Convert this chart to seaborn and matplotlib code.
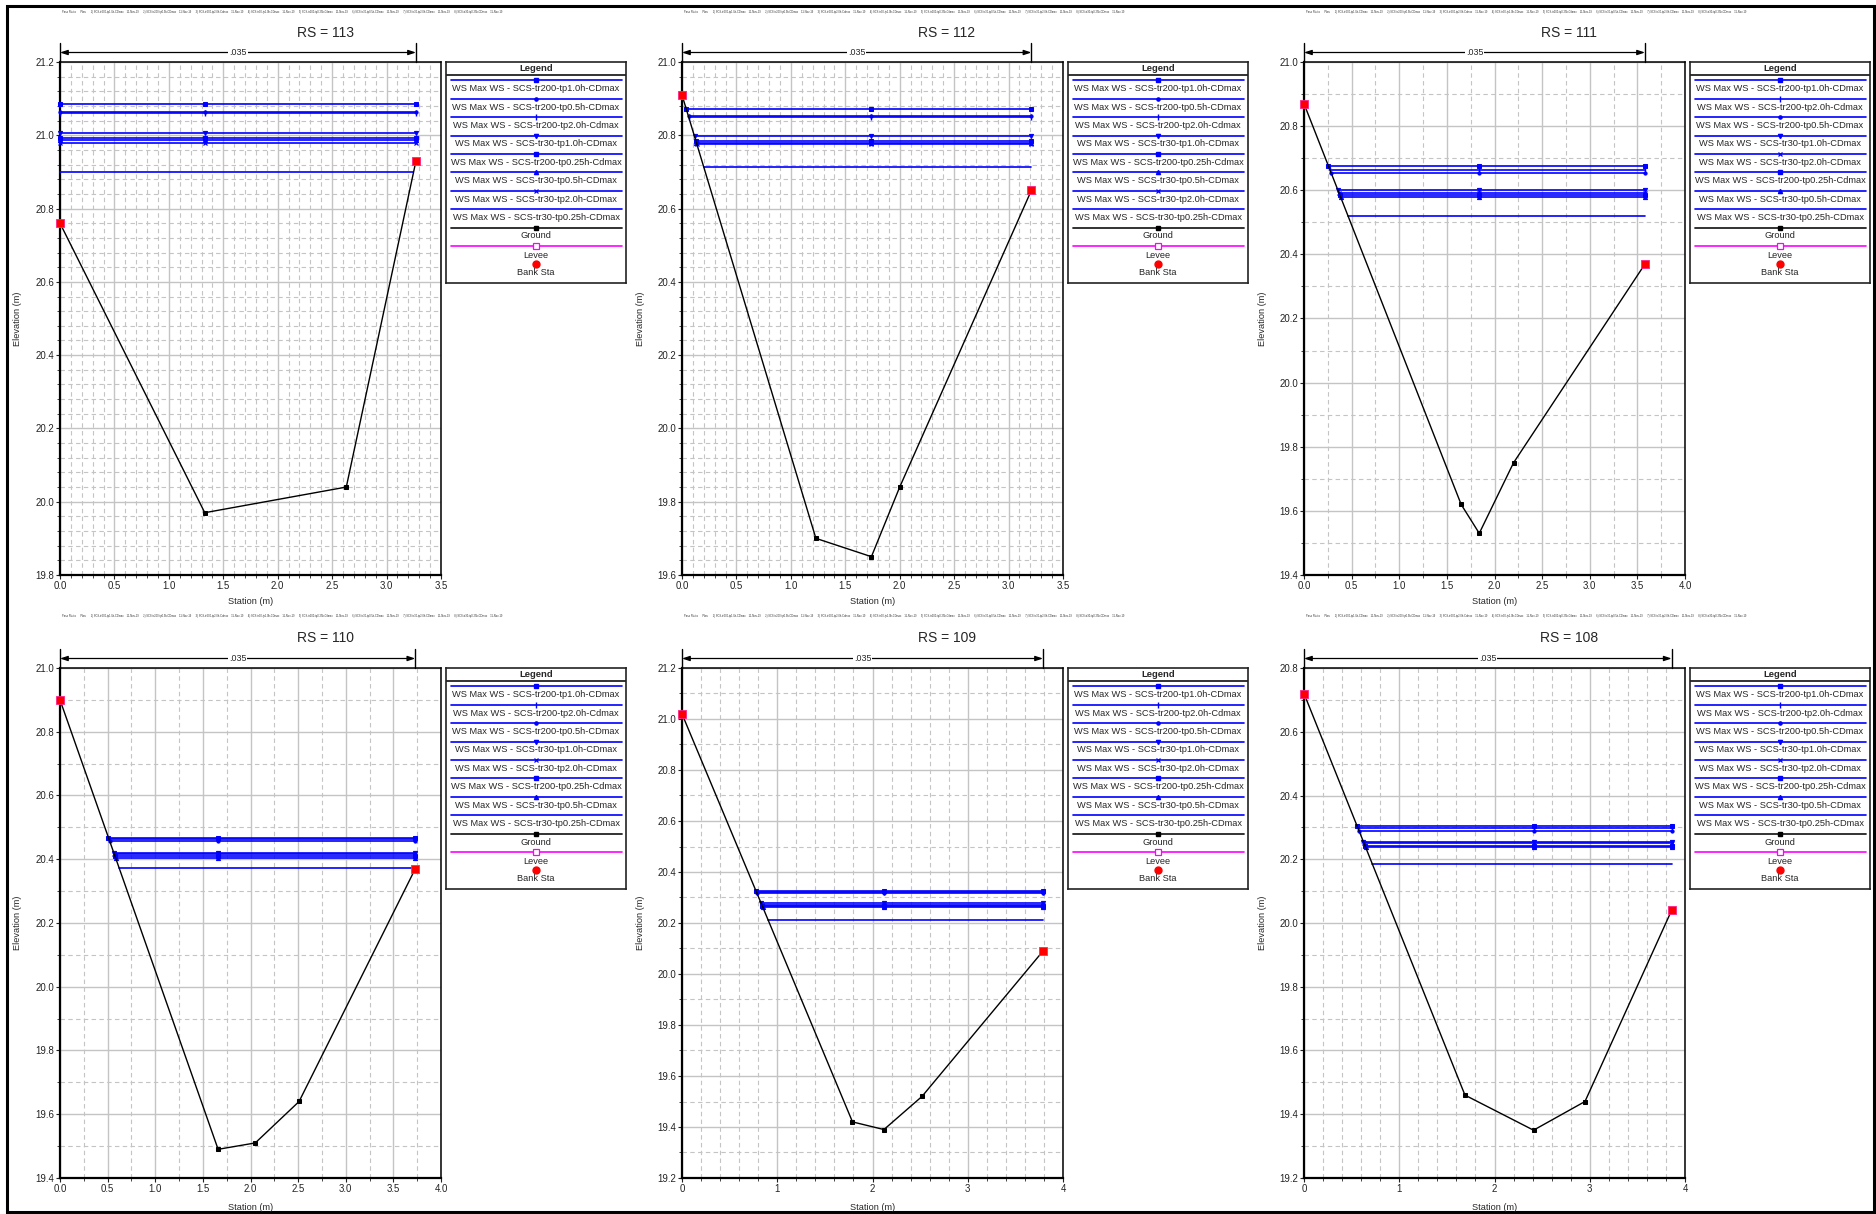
import matplotlib
matplotlib.use("Agg")
import numpy as np
import pandas as pd
import matplotlib.pyplot as plt
import seaborn as sns
from matplotlib.ticker import MultipleLocator, FormatStrFormatter
from matplotlib.patches import Rectangle

# ---- data ------------------------------------------------------------------
river_stations = ["113", "112", "111", "110", "109", "108"]

# ground profile (station m, elevation m); first and last points are bank stations
stations_113 = [0.0, 1.33, 2.63, 3.27]
elev_113 = [20.76, 19.97, 20.04, 20.93]
stations_112 = [0.0, 1.23, 1.74, 2.00, 3.21]
elev_112 = [20.91, 19.70, 19.65, 19.84, 20.65]
stations_111 = [0.0, 1.65, 1.84, 2.20, 3.58]
elev_111 = [20.87, 19.62, 19.53, 19.75, 20.37]
stations_110 = [0.0, 1.66, 2.05, 2.51, 3.73]
elev_110 = [20.90, 19.49, 19.51, 19.64, 20.37]
stations_109 = [0.0, 1.79, 2.12, 2.52, 3.79]
elev_109 = [21.02, 19.42, 19.39, 19.52, 20.09]
stations_108 = [0.0, 1.69, 2.41, 2.95, 3.86]
elev_108 = [20.72, 19.46, 19.35, 19.44, 20.04]

# profile order as listed in each legend (highest water surface first)
order_a = ["tr200-tp1.0h-CDmax", "tr200-tp0.5h-CDmax", "tr200-tp2.0h-Cdmax", "tr30-tp1.0h-CDmax",
           "tr200-tp0.25h-Cdmax", "tr30-tp0.5h-CDmax", "tr30-tp2.0h-CDmax", "tr30-tp0.25h-CDmax"]
order_b = ["tr200-tp1.0h-CDmax", "tr200-tp2.0h-Cdmax", "tr200-tp0.5h-CDmax", "tr30-tp1.0h-CDmax",
           "tr30-tp2.0h-CDmax", "tr200-tp0.25h-Cdmax", "tr30-tp0.5h-CDmax", "tr30-tp0.25h-CDmax"]

# max water surface per profile (same order as the legend of that section)
ws_113 = [21.085, 21.063, 21.060, 21.005, 20.992, 20.988, 20.980, 20.900]
ws_112 = [20.872, 20.853, 20.850, 20.797, 20.785, 20.780, 20.776, 20.714]
ws_111 = [20.675, 20.663, 20.655, 20.601, 20.592, 20.585, 20.579, 20.521]
ws_110 = [20.468, 20.462, 20.456, 20.420, 20.415, 20.410, 20.405, 20.372]
ws_109 = [20.325, 20.320, 20.316, 20.278, 20.272, 20.268, 20.263, 20.212]
ws_108 = [20.305, 20.299, 20.290, 20.255, 20.250, 20.241, 20.237, 20.186]

# where each water surface line starts / ends (station m)
ws_left_113 = [0.0, 0.0, 0.0, 0.0, 0.0, 0.0, 0.0, 0.0]
ws_right_113 = [3.27, 3.27, 3.27, 3.27, 3.27, 3.27, 3.27, 3.245]
ws_left_112 = [0.04, 0.06, 0.06, 0.115, 0.125, 0.13, 0.135, 0.20]
ws_right_112 = [3.21, 3.21, 3.21, 3.21, 3.21, 3.21, 3.21, 3.21]
ws_left_111 = [0.257, 0.273, 0.284, 0.355, 0.367, 0.376, 0.384, 0.461]
ws_right_111 = [3.58, 3.58, 3.58, 3.58, 3.58, 3.58, 3.58, 3.58]
ws_left_110 = [0.509, 0.516, 0.523, 0.565, 0.571, 0.577, 0.583, 0.622]
ws_right_110 = [3.73, 3.73, 3.73, 3.73, 3.73, 3.73, 3.73, 3.72]
ws_left_109 = [0.777, 0.783, 0.788, 0.830, 0.837, 0.841, 0.847, 0.904]
ws_right_109 = [3.79, 3.79, 3.79, 3.79, 3.79, 3.79, 3.79, 3.79]
ws_left_108 = [0.557, 0.565, 0.577, 0.624, 0.630, 0.642, 0.648, 0.716]
ws_right_108 = [3.86, 3.86, 3.86, 3.86, 3.86, 3.86, 3.86, 3.86]

# middle marker of each WS line sits at the thalweg
thalweg = [1.33, 1.74, 1.84, 1.66, 2.12, 2.41]

manning_n = ".035"
header_text = ("Paso Ristra      Plan:      1) SCS-tr200-tp1.0h-CDmax    11-Nov-19      "
               "2) SCS-tr200-tp0.5h-CDmax    11-Nov-19      3) SCS-tr200-tp2.0h-Cdmax    11-Nov-19      "
               "4) SCS-tr30-tp1.0h-CDmax    11-Nov-19      5) SCS-tr200-tp0.25h-Cdmax    11-Nov-19      "
               "6) SCS-tr30-tp0.5h-CDmax    11-Nov-19      7) SCS-tr30-tp2.0h-CDmax    11-Nov-19      "
               "8) SCS-tr30-tp0.25h-CDmax    11-Nov-19")

sections = [
    (stations_113, elev_113, ws_113, ws_left_113, ws_right_113, order_a),
    (stations_112, elev_112, ws_112, ws_left_112, ws_right_112, order_a),
    (stations_111, elev_111, ws_111, ws_left_111, ws_right_111, order_b),
    (stations_110, elev_110, ws_110, ws_left_110, ws_right_110, order_b),
    (stations_109, elev_109, ws_109, ws_left_109, ws_right_109, order_b),
    (stations_108, elev_108, ws_108, ws_left_108, ws_right_108, order_b),
]

# axis setup per section: xlim, x major, x minor, ylim, y major, y minor, x format
axis_cfg = [
    ((0, 3.5), 0.5, 0.1, (19.8, 21.2), 0.2, 0.04, "%.1f"),
    ((0, 3.5), 0.5, 0.1, (19.6, 21.0), 0.2, 0.04, "%.1f"),
    ((0, 4.0), 0.5, 0.25, (19.4, 21.0), 0.2, 0.1, "%.1f"),
    ((0, 4.0), 0.5, 0.25, (19.4, 21.0), 0.2, 0.1, "%.1f"),
    ((0, 4.0), 1.0, 0.2, (19.2, 21.2), 0.2, 0.1, "%d"),
    ((0, 4.0), 1.0, 0.2, (19.2, 20.8), 0.2, 0.1, "%d"),
]

marker_style = {
    "tr200-tp1.0h-CDmax": dict(marker="s", ms=3),
    "tr200-tp0.5h-CDmax": dict(marker="o", ms=2.3),
    "tr200-tp2.0h-Cdmax": dict(marker="|", ms=4, mew=1),
    "tr30-tp1.0h-CDmax": dict(marker="v", ms=3),
    "tr200-tp0.25h-Cdmax": dict(marker="s", ms=3),
    "tr30-tp0.5h-CDmax": dict(marker="^", ms=3),
    "tr30-tp2.0h-CDmax": dict(marker="x", ms=3, mew=0.9),
    "tr30-tp0.25h-CDmax": dict(),
}

BLUE = "#0000FF"
GRID = "#C4C4C4"

sns.set_style("ticks")
plt.rcParams["font.family"] = ["Liberation Sans", "DejaVu Sans"]

W, H = 1876, 1214
fig = plt.figure(figsize=(W / 100, H / 100), dpi=100)


def px_axes(left, top, width, height):
    return fig.add_axes([left / W, 1 - (top + height) / H, width / W, height / H])


for i, (gx, gy, ws, wl, wr, names) in enumerate(sections):
    col, row = i % 3, i // 3
    ax_left = 60 + 622 * col
    ax_top = 62 if row == 0 else 668
    ax_h = 513 if row == 0 else 510
    ax = px_axes(ax_left, ax_top, 381, ax_h)
    xlim, xmaj, xmin, ylim, ymaj, ymin, xfmt = axis_cfg[i]

    # water surface lines
    for name, level, x0, x1 in zip(names, ws, wl, wr):
        sns.lineplot(x=[x0, thalweg[i], x1], y=[level, level, level], ax=ax, color=BLUE,
                     lw=1.2, mec=BLUE, clip_on=False, zorder=3, errorbar=None,
                     **marker_style[name])
    # ground
    sns.lineplot(x=gx, y=gy, ax=ax, color="black", lw=1.0, marker="s", ms=3.3,
                 mec="black", zorder=4, errorbar=None, sort=False)
    # bank stations
    sns.scatterplot(x=[gx[0], gx[-1]], y=[gy[0], gy[-1]], ax=ax, marker="s", s=36,
                    color="#FF0000", edgecolor="#FF2288", linewidth=0.6, zorder=6,
                    clip_on=False, legend=False)

    ax.set_xlim(*xlim)
    ax.set_ylim(*ylim)
    ax.xaxis.set_major_locator(MultipleLocator(xmaj))
    ax.xaxis.set_minor_locator(MultipleLocator(xmin))
    ax.yaxis.set_major_locator(MultipleLocator(ymaj))
    ax.yaxis.set_minor_locator(MultipleLocator(ymin))
    ax.xaxis.set_major_formatter(FormatStrFormatter(xfmt))
    ax.yaxis.set_major_formatter(FormatStrFormatter("%.1f"))
    ax.grid(which="major", color=GRID, lw=1.0, ls="-")
    ax.grid(which="minor", color=GRID, lw=0.8, ls=(0, (4, 3)))
    ax.set_axisbelow(True)
    ax.tick_params(which="major", length=3, width=0.8, pad=1, labelsize=6.9, colors="#222222")
    ax.tick_params(which="minor", length=2, width=0.6)
    ax.set_xlabel("")
    ax.set_ylabel("")
    for side in ["left", "bottom"]:
        ax.spines[side].set_linewidth(1.6)
    for side in ["top", "right"]:
        ax.spines[side].set_linewidth(1.1)
    for sp in ax.spines.values():
        sp.set_color("black")

    # manning n dimension line above the plot
    tr = ax.get_xaxis_transform()
    ya = 1 + 9.5 / ax_h
    yt = 1 + 19 / ax_h
    for xe in (gx[0], gx[-1]):
        ax.plot([xe, xe], [1, yt], transform=tr, color="black", lw=1.0, clip_on=False)
    ax.annotate("", xy=(gx[-1], ya), xytext=(gx[0], ya), xycoords=tr, textcoords=tr,
                arrowprops=dict(arrowstyle="<|-|>,head_length=0.45,head_width=0.15",
                                color="black", lw=0.9, shrinkA=0, shrinkB=0))
    ax.text((gx[0] + gx[-1]) / 2, ya, manning_n, transform=tr, ha="center", va="center",
            fontsize=6.4, bbox=dict(facecolor="white", edgecolor="none", pad=0.6))

    # titles and labels
    title_y = 33 if row == 0 else 638
    fig.text((325 + 622 * col) / W, 1 - title_y / H, "RS = " + river_stations[i],
             ha="center", va="center", fontsize=10)
    head_y = 12 if row == 0 else 616
    fig.text((62 + 622 * col) / W, 1 - head_y / H, header_text, ha="left", va="center",
             fontsize=1.9, color="#333333")
    st_y = 602 if row == 0 else 1207
    fig.text((ax_left + 190.5) / W, 1 - st_y / H, "Station (m)", ha="center", va="center",
             fontsize=6.6)
    fig.text((18 + 622 * col) / W, 1 - (ax_top + ax_h / 2) / H, "Elevation (m)",
             ha="center", va="center", rotation=90, fontsize=6.6)

    # legend box
    lax = px_axes(ax_left + 386, ax_top, 180, 221)
    lax.set_xlim(0, 180)
    lax.set_ylim(221, 0)
    lax.set_xticks([])
    lax.set_yticks([])
    for sp in lax.spines.values():
        sp.set_linewidth(1.2)
        sp.set_color("#222222")
    lax.text(90, 6.3, "Legend", ha="center", va="center", fontsize=6.8, fontweight="bold")
    lax.axhline(12.7, color="#222222", lw=1.3)
    for k, name in enumerate(names):
        yl = 18.3 + 18.4 * k
        lax.plot([4.5, 175.5], [yl, yl], color=BLUE, lw=1.2)
        st = marker_style[name]
        if st:
            lax.plot([90], [yl], color=BLUE, ls="none", mec=BLUE, **st)
        lax.text(90, yl + 8.4, "WS Max WS - SCS-" + name, ha="center", va="center", fontsize=6.7)
    lax.plot([4.5, 175.5], [165.8, 165.8], color="#222222", lw=1.3)
    lax.plot([90], [165.8], color="black", marker="s", ms=3.3)
    lax.text(90, 174, "Ground", ha="center", va="center", fontsize=6.7)
    lax.plot([4.5, 175.5], [184.2, 184.2], color="#FF00FF", lw=1.2)
    lax.plot([90], [184.2], marker="s", ms=5, mfc="white", mec="#FF00FF", mew=0.9)
    lax.text(90, 193, "Levee", ha="center", va="center", fontsize=6.7)
    lax.plot([90], [202], marker="o", ms=5, color="#FF0000")
    lax.text(90, 210.8, "Bank Sta", ha="center", va="center", fontsize=6.7)

# outer frame
fig.patches.append(Rectangle((7 / W, 1 - 1212 / H), 1867 / W, 1206 / H, transform=fig.transFigure,
                             fill=False, lw=2.2, ec="black"))

fig.savefig("out.png", dpi=100)
